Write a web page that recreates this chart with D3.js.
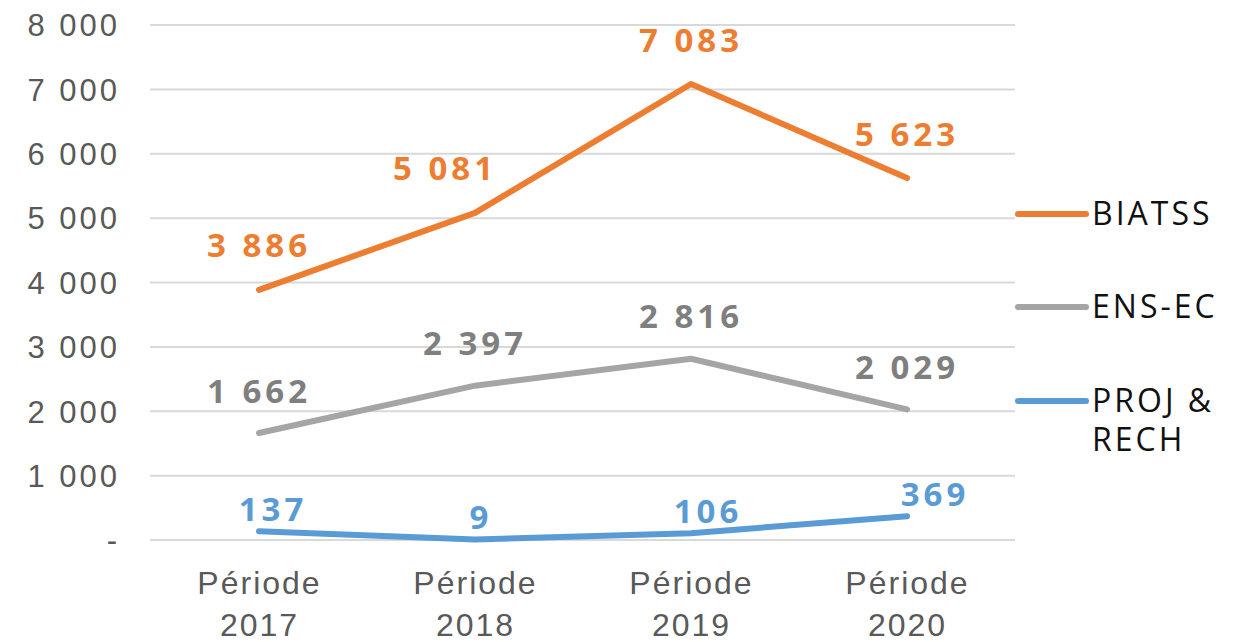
<!DOCTYPE html>
<html>
<head>
<meta charset="utf-8">
<script src="https://cdn.jsdelivr.net/npm/d3@7/dist/d3.min.js"></script>
<style>
  body { margin: 0; background: #fff; }
  svg { display: block; font-family: "Open Sans", Lato, sans-serif; }
</style>
</head>
<body>
<div id="chart"></div>
<script>
// data
var periods = ["Période 2017", "Période 2018", "Période 2019", "Période 2020"];
var biatss = [3886, 5081, 7083, 5623];
var ensEc = [1662, 2397, 2816, 2029];
var projRech = [137, 9, 106, 369];
var seriesNames = ["BIATSS", "ENS-EC", "PROJ & RECH"];
var yTicks = [0, 1000, 2000, 3000, 4000, 5000, 6000, 7000, 8000];

var colors = ["#ED7D31", "#A5A5A5", "#5B9BD5"];
var labelColors = ["#ED7D31", "#7F7F7F", "#5B9BD5"];
// label nudges (layout only)
var labelDx = [[0, -30, 0, 0], [0, 0, 0, 0], [14, 6, 17, 28]];
var labelDy = [-44, -42, -22];

var series = [biatss, ensEc, projRech].map(function(vals, i) {
    return {
        name: seriesNames[i],
        values: vals.map(function(v, j) { return {period: periods[j], value: v, idx: j}; })
    };
});

var W = 1234, H = 642;
var svg = d3.select("#chart").append("svg")
    .attr("width", W)
    .attr("height", H);

var x = d3.scalePoint()
    .domain(periods)
    .range([151, 1015])
    .padding(0.5);

var y = d3.scaleLinear()
    .domain([0, 8000])
    .range([540, 25]);

var fmt = function(v) {
    if (v === 0) return "-";
    return d3.format(",")(v).replace(/,/g, " ");
};

// gridlines
svg.append("g")
    .selectAll("line")
    .data(yTicks)
    .enter().append("line")
    .attr("x1", 150).attr("x2", 1015)
    .attr("y1", function(d) { return y(d); })
    .attr("y2", function(d) { return y(d); })
    .attr("stroke", "#D9D9D9")
    .attr("stroke-width", 2);

// y axis
var yAxis = svg.append("g")
    .attr("transform", "translate(150,0)")
    .call(d3.axisLeft(y).tickValues(yTicks).tickFormat(fmt).tickSize(0).tickPadding(30));
yAxis.select(".domain").remove();
yAxis.selectAll("text")
    .attr("fill", "#595959")
    .style("font-size", "31px")
    .style("letter-spacing", "3px")
    .attr("dy", "0.35em");

// x axis
var xAxis = svg.append("g")
    .attr("transform", "translate(0,540)")
    .call(d3.axisBottom(x).tickSize(0).tickFormat(""));
xAxis.select(".domain").remove();
xAxis.selectAll(".tick").each(function(d) {
    var parts = d.split(" ");
    var t = d3.select(this).append("text")
        .attr("fill", "#595959")
        .attr("text-anchor", "middle")
        .style("font-size", "32px")
        .style("letter-spacing", "2px");
    t.append("tspan").attr("x", 0).attr("y", 54).text(parts[0]);
    t.append("tspan").attr("x", 0).attr("y", 96).text(parts[1]);
});

var line = d3.line()
    .x(function(d) { return x(d.period); })
    .y(function(d) { return y(d.value); });

var factor = svg.selectAll(".factor")
    .data(series)
    .enter().append("g")
    .attr("class", "factor");

factor.append("path")
    .attr("d", function(d) { return line(d.values); })
    .attr("fill", "none")
    .attr("stroke", function(d, i) { return colors[i]; })
    .attr("stroke-width", 6)
    .attr("stroke-linecap", "round")
    .attr("stroke-linejoin", "round");

factor.each(function(s, i) {
    d3.select(this).selectAll("text.lbl")
        .data(s.values)
        .enter().append("text")
        .attr("class", "lbl")
        .attr("x", function(d) { return x(d.period) + labelDx[i][d.idx]; })
        .attr("y", function(d) { return y(d.value) + labelDy[i]; })
        .attr("dy", "0.35em")
        .attr("text-anchor", "middle")
        .attr("fill", labelColors[i])
        .style("font-size", "33px")
        .style("font-weight", "700")
        .style("letter-spacing", "4px")
        .text(function(d) { return fmt(d.value); });
});

// legend
var legendY = [214, 307, 401];
var legend = svg.selectAll(".legend")
    .data(series)
    .enter().append("g")
    .attr("class", "legend")
    .attr("transform", function(d, i) { return "translate(1018," + legendY[i] + ")"; });

legend.append("line")
    .attr("x1", 0).attr("x2", 68)
    .attr("stroke", function(d, i) { return colors[i]; })
    .attr("stroke-width", 6)
    .attr("stroke-linecap", "round");

legend.each(function(d) {
    var lines = d.name === "PROJ & RECH" ? ["PROJ &", "RECH"] : [d.name];
    d3.select(this).selectAll("text")
        .data(lines)
        .enter().append("text")
        .attr("x", 74)
        .attr("y", function(t, k) { return k * 39; })
        .attr("dy", "0.35em")
        .attr("fill", "#111")
        .style("font-size", "32px")
        .style("letter-spacing", "3px")
        .text(function(t) { return t; });
});
</script>
</body>
</html>
